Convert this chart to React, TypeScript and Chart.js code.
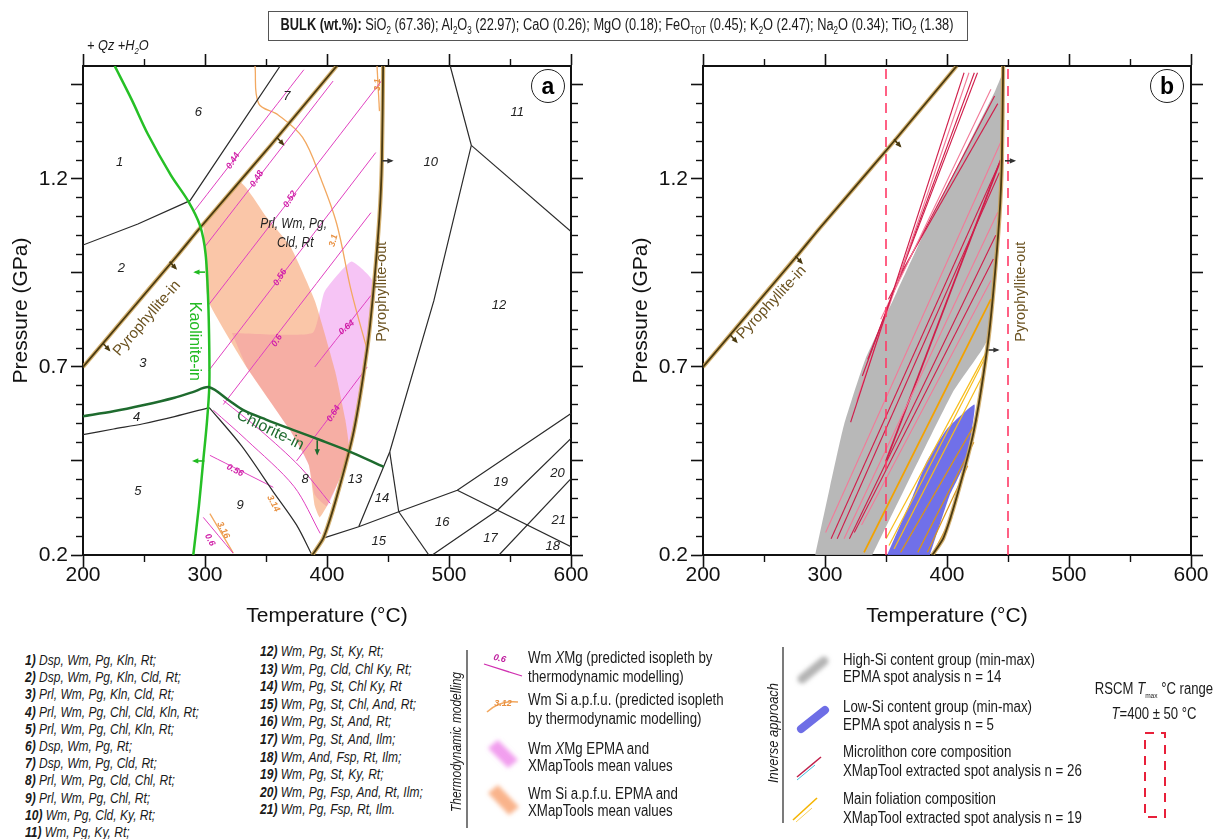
import React, { useEffect, useRef } from "react";
import { Chart, registerables } from "chart.js";

Chart.register(...registerables);

type Pt = [number, number];
type Seg = [number, number, number, number];

const SANS = "'Liberation Sans', Arial, Helvetica, sans-serif";

// ---------------- axes ----------------
const T_MIN = 200;
const T_MAX = 600;
const P_MIN = 0.2;
const P_MAX = 1.5;
const T_MAJOR_TICKS = [200, 300, 400, 500, 600];
const T_MINOR_TICKS = [250, 350, 450, 550];
const P_MAJOR_TICKS = [0.2, 0.45, 0.7, 0.95, 1.2, 1.45];
const P_MINOR_TICKS = [0.25, 0.3, 0.35, 0.4, 0.5, 0.55, 0.6, 0.65, 0.75, 0.8, 0.85, 0.9, 1.0, 1.05, 1.1, 1.15, 1.25, 1.3, 1.35, 1.4];
const P_TICK_LABELS = [0.2, 0.7, 1.2];

// ---------------- phase boundaries (T °C, P GPa) ----------------
const kaoliniteIn: Pt[] = [[226, 1.5], [240, 1.41], [253, 1.32], [272, 1.21], [286, 1.142], [296, 1.075], [300.5, 1.0], [302.6, 0.876], [303.5, 0.75], [303.5, 0.646], [301.5, 0.55], [298.6, 0.452], [295, 0.33], [290.4, 0.2]];
const chloriteIn: Pt[] = [[200, 0.569], [225, 0.582], [249, 0.598], [275, 0.618], [290, 0.633], [303.5, 0.646], [320, 0.61], [331.5, 0.585], [350, 0.56], [372.6, 0.532], [395, 0.505], [416.4, 0.478], [446.5, 0.434]];
const pyrophylliteIn: Pt[] = [[200, 0.7], [277, 0.995], [296, 1.07], [354, 1.29], [408, 1.5]];
const pyrophylliteOut: Pt[] = [[446, 1.5], [445, 1.25], [443, 1.1], [438, 0.9], [433, 0.75], [422, 0.53], [408, 0.355], [397, 0.245], [388, 0.2]];
const boundary4: Pt[] = [[200, 0.52], [225, 0.535], [249.4, 0.549], [275, 0.568], [303.5, 0.592]];
const boundary8to9: Pt[] = [[303.5, 0.592], [330, 0.49], [356, 0.368], [375, 0.28], [387.7, 0.2]];
const boundary1to6to7: Pt[] = [[200, 1.024], [245, 1.08], [287.7, 1.142], [361.6, 1.5]];
const boundaryA: Pt[] = [[501, 1.5], [518.3, 1.289], [487.6, 0.876], [451.4, 0.474], [426, 0.275]];
const boundary10to11: Pt[] = [[518.3, 1.289], [600, 1.06]];
const boundaryB: Pt[] = [[451.4, 0.474], [458.8, 0.315]];
const boundaryC: Pt[] = [[397, 0.245], [426, 0.275], [458.8, 0.315], [506.8, 0.372], [600, 0.576]];
const boundaryD: Pt[] = [[458.8, 0.315], [483.5, 0.2]];
const boundaryE: Pt[] = [[506.8, 0.372], [600, 0.222]];
const boundaryF: Pt[] = [[486.3, 0.2], [539.7, 0.319], [600, 0.51]];
const boundaryG: Pt[] = [[541, 0.2], [600, 0.403]];

// ---------------- isopleths (panel a) ----------------
const xmgIsopleths: Pt[][] = [
  [[291, 1.114], [381, 1.49]],
  [[300, 1.02], [405, 1.46]],
  [[303, 0.865], [446, 1.466]],
  [[303, 0.69], [440, 1.27]],
  [[315, 0.6], [436, 1.11]],
  [[375, 0.45], [433, 0.7]],
  [[390, 0.7], [436, 0.89]],
  [[306.8, 0.585], [334, 0.506], [373, 0.382], [394.5, 0.257]],
  [[315, 0.611], [345.2, 0.532], [378, 0.434], [402.7, 0.337]],
  [[304, 0.465], [356, 0.38]],
  [[298.6, 0.3], [323, 0.205]],
];
const siIsopleths: Pt[][] = [
  [[341, 1.5], [344, 1.4], [360, 1.37], [380, 1.31], [395, 1.2], [408, 1.08], [420, 0.9], [433, 0.745]],
  [[441, 1.5], [443, 1.38]],
  [[304, 0.31], [323.2, 0.205]],
];

// ---------------- measured fields ----------------
const siEpmaField: Pt[] = [[298.6, 1.08], [328.8, 1.19], [350, 1.1], [370, 1.02], [390, 0.876], [406.6, 0.69], [415, 0.56], [418, 0.48], [410, 0.4], [400, 0.33], [394, 0.3], [390, 0.33], [385, 0.44], [370, 0.53], [334, 0.7], [302.6, 0.876], [300, 0.99]];
const xmgEpmaField: Pt[] = [[322, 0.79], [388, 0.79], [398, 0.9], [420, 0.98], [437, 0.93], [434, 0.78], [428, 0.65], [419, 0.48], [410, 0.4], [400, 0.33], [390, 0.36], [385, 0.44], [370, 0.53], [334, 0.7]];

// ---------------- panel b ----------------
const highSiGroup: Pt[] = [[292, 0.2], [304, 0.38], [315.5, 0.545], [333, 0.72], [359, 0.9], [384, 1.075], [411, 1.25], [439, 1.43], [445.7, 1.478], [446, 1.3], [443, 1.1], [438, 0.9], [432, 0.765], [404.6, 0.632], [338.8, 0.2]];
const lowSiGroup: Pt[] = [[351, 0.2], [372, 0.357], [383, 0.446], [400, 0.535], [422.4, 0.6], [420.5, 0.535], [415, 0.446], [402, 0.357], [386, 0.2]];
const microlithonCore: Seg[] = [
  [321, 0.553, 414, 1.482], [326, 0.61, 418, 1.482], [330.6, 0.676, 422.4, 1.482], [335, 0.72, 425, 1.482],
  [345.7, 0.827, 436, 1.438], [352, 0.88, 439, 1.42], [359.4, 0.933, 441.6, 1.4],
  [300.5, 0.26, 444.4, 1.3], [305, 0.243, 444.4, 1.252], [310, 0.243, 443, 1.217], [315.6, 0.243, 441.6, 1.111],
  [320, 0.243, 440, 1.05], [324, 0.26, 438, 0.987], [330, 0.28, 436, 0.93], [350, 0.45, 444, 1.25],
];
const mainFoliation: Seg[] = [
  [332, 0.207, 436, 0.88], [350, 0.243, 432, 0.738], [352.5, 0.225, 430.5, 0.72], [356.6, 0.216, 429, 0.676],
  [362, 0.207, 425, 0.56], [376, 0.207, 422, 0.5], [384, 0.207, 417, 0.437], [389, 0.207, 404, 0.3],
];
const rscmRange: number[] = [350, 450];

// ---------------- labels ----------------
const fieldNumbers: [string, number, number][] = [
  ["1", 230, 1.243], ["2", 231.5, 0.961], ["3", 249, 0.71], ["4", 244, 0.567], ["5", 245, 0.368],
  ["6", 294.5, 1.376], ["7", 367, 1.42], ["8", 382, 0.4], ["9", 328.8, 0.333], ["10", 485, 1.243],
  ["11", 556, 1.376], ["12", 541, 0.863], ["13", 423, 0.4], ["14", 445, 0.35], ["15", 442.5, 0.235],
  ["16", 494.5, 0.288], ["17", 534, 0.244], ["18", 585, 0.222], ["19", 542.5, 0.394], ["20", 589, 0.417], ["21", 590, 0.293],
];
const xmgLabels: [string, number, number, number][] = [
  ["0.44", 323, 1.248, -58], ["0.48", 342.5, 1.2, -58], ["0.52", 369.8, 1.146, -58], ["0.56", 361.6, 0.938, -58],
  ["0.6", 359, 0.77, -58], ["0.64", 405.4, 0.576, -58], ["0.64", 416, 0.805, -40], ["0.56", 324.6, 0.425, 28], ["0.6", 304, 0.24, 62],
];
const siLabels: [string, number, number, number][] = [
  ["3.1", 405.4, 1.036, -75], ["3.14", 356, 0.337, 62], ["3.16", 315, 0.266, 62], ["3.1", 441.5, 1.45, -90],
];
const ASSEMBLAGES = [
  "Dsp, Wm, Pg, Kln, Rt;", "Dsp, Wm, Pg, Kln, Cld, Rt;", "Prl, Wm, Pg, Kln, Cld, Rt;", "Prl, Wm, Pg, Chl, Cld, Kln, Rt;",
  "Prl, Wm, Pg, Chl,  Kln, Rt;", "Dsp, Wm, Pg, Rt;", "Dsp, Wm, Pg, Cld, Rt;", "Prl, Wm, Pg, Cld, Chl, Rt;",
  "Prl, Wm, Pg, Chl,  Rt;", "Wm, Pg, Cld, Ky, Rt;", "Wm, Pg, Ky, Rt;", "Wm, Pg, St, Ky, Rt;",
  "Wm, Pg, Cld, Chl Ky, Rt;", "Wm, Pg, St, Chl Ky, Rt", "Wm, Pg, St, Chl, And, Rt;", "Wm, Pg, St, And, Rt;",
  "Wm, Pg, St, And, Ilm;", "Wm, And, Fsp, Rt, Ilm;", "Wm, Pg, St, Ky, Rt;", "Wm, Pg, Fsp, And, Rt, Ilm;", "Wm, Pg, Fsp, Rt, Ilm.",
];

// ---------------- layout constants ----------------
const PLOT_LEFT = 83;
const PLOT_RIGHT = 571;
const PLOT_TOP = 66;
const PLOT_BOTTOM = 555;
const CANVAS_H = 640;
const CONDENSE = 0.83;

const COL_PYRO = "#4a3a10";
const COL_PYRO_HALO = "rgba(205,165,90,0.85)";
const COL_BLACK = "#2a2a2a";

type Label = { text: string; t: number; p: number; rot?: number; color?: string; font?: string; sx?: number };
type Arrow = { from: Pt; to: Pt; color: string };

const toXY = (pts: Pt[]) => pts.map(([x, y]) => ({ x, y }));

function line(pts: Pt[], color: string, width: number, extra: any = {}) {
  return { data: toXY(pts), showLine: true, borderColor: color, backgroundColor: color, borderWidth: width, pointRadius: 0, fill: false, tension: 0, order: 2, ...extra };
}
function polygon(pts: Pt[], color: string, order: number) {
  return { data: toXY(pts), showLine: true, borderColor: "rgba(0,0,0,0)", borderWidth: 0, backgroundColor: color, fill: "shape", pointRadius: 0, tension: 0.15, order };
}
function segment(s: Seg, color: string, width: number, order: number) {
  return line([[s[0], s[1]], [s[2], s[3]]], color, width, { order });
}
function pyroLines(pts: Pt[]) {
  return [line(pts, COL_PYRO, 1.8, { order: 1, tension: 0.2 }), line(pts, COL_PYRO_HALO, 4.2, { order: 1.5, tension: 0.2 })];
}

function annotationPlugin(labels: Label[], arrows: Arrow[]) {
  return {
    id: "ptAnnotations",
    afterDatasetsDraw(chart: any) {
      const { ctx, chartArea, scales } = chart;
      const xs = scales.x;
      const ys = scales.y;
      ctx.save();
      ctx.beginPath();
      ctx.rect(chartArea.left, chartArea.top, chartArea.right - chartArea.left, chartArea.bottom - chartArea.top);
      ctx.clip();
      for (const a of arrows) {
        const x0 = xs.getPixelForValue(a.from[0]);
        const y0 = ys.getPixelForValue(a.from[1]);
        const x1 = xs.getPixelForValue(a.to[0]);
        const y1 = ys.getPixelForValue(a.to[1]);
        const ang = Math.atan2(y1 - y0, x1 - x0);
        ctx.strokeStyle = a.color;
        ctx.fillStyle = a.color;
        ctx.lineWidth = 1.6;
        ctx.beginPath();
        ctx.moveTo(x0, y0);
        ctx.lineTo(x1, y1);
        ctx.stroke();
        const h = 5;
        ctx.beginPath();
        ctx.moveTo(x1 + Math.cos(ang) * 2, y1 + Math.sin(ang) * 2);
        ctx.lineTo(x1 - h * Math.cos(ang - 0.55), y1 - h * Math.sin(ang - 0.55));
        ctx.lineTo(x1 - h * Math.cos(ang + 0.55), y1 - h * Math.sin(ang + 0.55));
        ctx.closePath();
        ctx.fill();
      }
      for (const l of labels) {
        const x = xs.getPixelForValue(l.t);
        const y = ys.getPixelForValue(l.p);
        ctx.save();
        ctx.translate(x, y);
        ctx.rotate(((l.rot || 0) * Math.PI) / 180);
        if (l.sx) ctx.scale(l.sx, 1);
        ctx.font = l.font || `italic 13px ${SANS}`;
        ctx.fillStyle = l.color || "#222";
        ctx.textAlign = "center";
        ctx.textBaseline = "middle";
        ctx.fillText(l.text, 0, 0);
        ctx.restore();
      }
      ctx.restore();
    },
  };
}

function makeScales(w: number, h: number) {
  const tickFont = { size: 21, family: SANS, lineHeight: 1 };
  const border = { display: true, color: "#111", width: 2 };
  const noBorder = { display: false };
  const majorGrid = { drawOnChartArea: false, drawTicks: true, tickLength: 12, tickWidth: 1.6, tickColor: "#111" };
  const minorGrid = { drawOnChartArea: false, drawTicks: true, tickLength: 7, tickWidth: 1.4, tickColor: "#111" };
  const setTicks = (vals: number[]) => (s: any) => {
    s.ticks = vals.map((v) => ({ value: v }));
  };
  const tRange = { type: "linear", min: T_MIN, max: T_MAX };
  const pRange = { type: "linear", min: P_MIN, max: P_MAX };
  return {
    x: {
      ...tRange, position: "bottom", weight: 1,
      afterBuildTicks: setTicks(T_MAJOR_TICKS),
      afterFit: (s: any) => { s.height = h - PLOT_BOTTOM; },
      ticks: { autoSkip: false, maxRotation: 0, padding: -2, color: "#111", font: tickFont, callback: (v: any) => String(v) },
      grid: majorGrid, border,
      title: { display: true, text: "Temperature (°C)", color: "#111", font: { size: 21, family: SANS, lineHeight: 1 }, padding: { top: 0, bottom: 13.5 } },
    },
    xMinor: {
      ...tRange, position: "bottom", weight: 0,
      afterBuildTicks: setTicks(T_MINOR_TICKS),
      afterFit: (s: any) => { s.height = 0; },
      ticks: { display: false, autoSkip: false }, grid: minorGrid, border: noBorder,
    },
    xTop: {
      ...tRange, position: "top", weight: 1,
      afterBuildTicks: setTicks(T_MAJOR_TICKS),
      afterFit: (s: any) => { s.height = PLOT_TOP; },
      ticks: { display: false, autoSkip: false }, grid: majorGrid, border,
    },
    xTopMinor: {
      ...tRange, position: "top", weight: 0,
      afterBuildTicks: setTicks(T_MINOR_TICKS),
      afterFit: (s: any) => { s.height = 0; },
      ticks: { display: false, autoSkip: false }, grid: minorGrid, border: noBorder,
    },
    y: {
      ...pRange, position: "left", weight: 1,
      afterBuildTicks: setTicks(P_MAJOR_TICKS),
      afterFit: (s: any) => { s.width = PLOT_LEFT; },
      ticks: {
        autoSkip: false, padding: 3, color: "#111", font: tickFont,
        callback: (v: any) => (P_TICK_LABELS.some((l) => Math.abs(l - v) < 1e-6) ? Number(v).toFixed(1) : ""),
      },
      grid: majorGrid, border,
      title: { display: true, text: "Pressure (GPa)", color: "#111", font: { size: 21, family: SANS, lineHeight: 1 }, padding: { top: 10.5, bottom: 0 } },
    },
    yMinor: {
      ...pRange, position: "left", weight: 0,
      afterBuildTicks: setTicks(P_MINOR_TICKS),
      afterFit: (s: any) => { s.width = 0; },
      ticks: { display: false, autoSkip: false }, grid: minorGrid, border: noBorder,
    },
    yRight: {
      ...pRange, position: "right", weight: 1,
      afterBuildTicks: setTicks(P_MAJOR_TICKS),
      afterFit: (s: any) => { s.width = w - PLOT_RIGHT; },
      ticks: { display: false, autoSkip: false }, grid: majorGrid, border,
    },
    yRightMinor: {
      ...pRange, position: "right", weight: 0,
      afterBuildTicks: setTicks(P_MINOR_TICKS),
      afterFit: (s: any) => { s.width = 0; },
      ticks: { display: false, autoSkip: false }, grid: minorGrid, border: noBorder,
    },
  };
}

function PTChart(props: { left: number; width: number; datasets: any[]; labels: Label[]; arrows: Arrow[] }) {
  const ref = useRef<HTMLCanvasElement>(null);
  useEffect(() => {
    const chart = new Chart(ref.current as HTMLCanvasElement, {
      type: "scatter",
      data: { datasets: props.datasets },
      options: {
        animation: false,
        responsive: false,
        events: [],
        layout: { padding: 0 },
        plugins: { legend: { display: false }, tooltip: { enabled: false } },
        scales: makeScales(props.width, CANVAS_H) as any,
      },
      plugins: [annotationPlugin(props.labels, props.arrows)],
    } as any);
    return () => chart.destroy();
  }, []);
  return (
    <canvas ref={ref} width={props.width} height={CANVAS_H}
      style={{ position: "absolute", left: props.left, top: 0, width: props.width, height: CANVAS_H }} />
  );
}

// ---------- panel a ----------
const datasetsA: any[] = [
  polygon(xmgEpmaField, "rgba(236,125,232,0.45)", 11),
  polygon(siEpmaField, "rgba(247,160,110,0.6)", 10),
  ...xmgIsopleths.map((p) => line(p, "#e040c0", 1, { order: 5, tension: 0.3 })),
  ...siIsopleths.map((p) => line(p, "#f2a860", 1.3, { order: 5, tension: 0.35 })),
  line(boundary4, COL_BLACK, 1.2, { tension: 0.3 }),
  line(boundary8to9, COL_BLACK, 1.2, { tension: 0.3 }),
  line(boundary1to6to7, COL_BLACK, 1.2),
  line(boundaryA, COL_BLACK, 1.2),
  line(boundary10to11, COL_BLACK, 1.2),
  line(boundaryB, COL_BLACK, 1.2),
  line(boundaryC, COL_BLACK, 1.2),
  line(boundaryD, COL_BLACK, 1.2),
  line(boundaryE, COL_BLACK, 1.2),
  line(boundaryF, COL_BLACK, 1.2),
  line(boundaryG, COL_BLACK, 1.2),
  line(chloriteIn, "#1e6b2e", 2.5, { order: 1, tension: 0.3 }),
  line(kaoliniteIn, "#26c026", 2.5, { order: 1, tension: 0.3 }),
  ...pyroLines(pyrophylliteIn),
  ...pyroLines(pyrophylliteOut),
];

const labelsA: Label[] = [
  ...fieldNumbers.map(([text, t, p]) => ({ text, t, p })),
  { text: "Prl, Wm, Pg,", t: 372.6, p: 1.08, font: `italic 14.5px ${SANS}`, sx: 0.82 },
  { text: "Cld, Rt", t: 374, p: 1.03, font: `italic 14.5px ${SANS}`, sx: 0.82 },
  ...xmgLabels.map(([text, t, p, rot]) => ({ text, t, p, rot, color: "#d020a8", font: `italic bold 9px ${SANS}` })),
  ...siLabels.map(([text, t, p, rot]) => ({ text, t, p, rot, color: "#e89040", font: `italic bold 9px ${SANS}` })),
  { text: "Pyrophyllite-in", t: 252.4, p: 0.829, rot: -49, color: "#6b5220", font: `15px ${SANS}` },
  { text: "Pyrophyllite-out", t: 445, p: 0.9, rot: -90, color: "#6b5220", font: `14.5px ${SANS}` },
  { text: "Kaolinite-in", t: 291.4, p: 0.768, rot: 90, color: "#22bb22", font: `16px ${SANS}` },
  { text: "Chlorite-in", t: 353.4, p: 0.532, rot: 26, color: "#1e6b2e", font: `16px ${SANS}` },
];
const arrowsA: Arrow[] = [
  { from: [445.5, 1.248], to: [453, 1.248], color: "#333" },
  { from: [300, 0.952], to: [292, 0.952], color: "#22bb22" },
  { from: [299.5, 0.45], to: [291, 0.45], color: "#22bb22" },
  { from: [392, 0.505], to: [392, 0.47], color: "#1e6b2e" },
  { from: [359, 1.31], to: [364, 1.292], color: "#4a3a10" },
  { from: [271, 0.98], to: [276, 0.962], color: "#4a3a10" },
  { from: [216.4, 0.763], to: [221.4, 0.745], color: "#4a3a10" },
];

// ---------- panel b ----------
const datasetsB: any[] = [
  polygon(highSiGroup, "rgba(178,178,178,0.92)", 12),
  polygon(lowSiGroup, "rgba(104,104,232,0.95)", 11),
  ...microlithonCore.map((s, i) => segment(s, i % 3 === 1 ? "#f27a98" : "#d01d4a", i === 14 ? 1.8 : 1.1, 6)),
  ...mainFoliation.map((s, i) => segment(s, i === 0 ? "#f2a200" : i >= 4 ? "#d89418" : "#f7bd1c", i === 0 ? 1.8 : 1.2, 5)),
  ...rscmRange.map((t) => line([[t, P_MIN], [t, P_MAX]], "#ff3a66", 1.6, { borderDash: [10, 7], order: 0.5 })),
  ...pyroLines(pyrophylliteIn),
  ...pyroLines(pyrophylliteOut),
];
const labelsB: Label[] = [
  { text: "Pyrophyllite-in", t: 256.2, p: 0.871, rot: -47, color: "#6b5220", font: `15px ${SANS}` },
  { text: "Pyrophyllite-out", t: 460.7, p: 0.9, rot: -90, color: "#6b5220", font: `14.5px ${SANS}` },
];
const arrowsB: Arrow[] = [
  { from: [356.6, 1.305], to: [361.6, 1.287], color: "#4a3a10" },
  { from: [275.8, 0.995], to: [280.8, 0.977], color: "#4a3a10" },
  { from: [222.4, 0.785], to: [227.4, 0.767], color: "#4a3a10" },
  { from: [447.5, 1.248], to: [455, 1.248], color: "#333" },
  { from: [434, 0.745], to: [441.5, 0.745], color: "#333" },
];

const txt = (extra: any = {}) => ({ position: "absolute" as const, whiteSpace: "nowrap" as const, fontFamily: SANS, color: "#1a1a1a", ...extra });

function LegendRow(props: { left: number; cy: number; size?: number; children: any; style?: any }) {
  const s = props.size || 16;
  return (
    <div style={txt({ left: props.left, top: props.cy - 10, height: 20, lineHeight: "20px", fontSize: s, transform: `scaleX(${CONDENSE})`, transformOrigin: "0 50%", ...(props.style || {}) })}>{props.children}</div>
  );
}

export default function App() {
  return (
    <div style={{ position: "absolute", left: 0, top: 0, width: 1220, height: 839, background: "#fff", overflow: "hidden" }}>
      <PTChart left={0} width={610} datasets={datasetsA} labels={labelsA} arrows={arrowsA} />
      <PTChart left={620} width={600} datasets={datasetsB} labels={labelsB} arrows={arrowsB} />

      {/* bulk composition box */}
      <div style={{ position: "absolute", left: 268, top: 11, width: 698, height: 28, border: "1px solid #555" }} />
      <div style={txt({ left: 617 - 430, top: 11, width: 860, height: 30, display: "flex", alignItems: "center", justifyContent: "center", fontSize: 16, transform: "scaleX(0.8)", transformOrigin: "50% 50%" })}>
        <span><b>BULK (wt.%):</b> SiO<sub style={{ fontSize: 10 }}>2</sub> (67.36); Al<sub style={{ fontSize: 10 }}>2</sub>O<sub style={{ fontSize: 10 }}>3</sub> (22.97); CaO (0.26); MgO (0.18); FeO<sub style={{ fontSize: 10 }}>TOT</sub> (0.45); K<sub style={{ fontSize: 10 }}>2</sub>O (2.47); Na<sub style={{ fontSize: 10 }}>2</sub>O (0.34); TiO<sub style={{ fontSize: 10 }}>2</sub> (1.38)</span>
      </div>
      <div style={txt({ left: 87, top: 36, fontSize: 15, fontStyle: "italic", transform: "scaleX(0.85)", transformOrigin: "0 50%" })}>+ Qz +H<sub style={{ fontSize: 9 }}>2</sub>O</div>

      {/* panel letters */}
      {[["a", 548], ["b", 1167]].map(([l, x]) => (
        <div key={l as string} style={{ position: "absolute", left: (x as number) - 17, top: 69, width: 32, height: 32, borderRadius: "50%", border: "1.6px solid #222", background: "#fff", display: "flex", alignItems: "center", justifyContent: "center", fontFamily: SANS, fontWeight: "bold", fontSize: 23, lineHeight: "23px" }}>{l}</div>
      ))}

      {/* assemblage list */}
      {ASSEMBLAGES.map((s, i) => {
        const first = i < 11;
        const row = first ? i : i - 11;
        return (
          <LegendRow key={i} left={first ? 25 : 260} cy={first ? 660 + row * 17.2 : 651 + row * 17.6} size={14.5} style={{ fontStyle: "italic" }}>
            <b>{i + 1})</b> {s}
          </LegendRow>
        );
      })}

      {/* legend icons */}
      <svg width={1220} height={839} style={{ position: "absolute", left: 0, top: 0, pointerEvents: "none" }}>
        <defs>
          <filter id="soft" x="-50%" y="-50%" width="200%" height="200%"><feGaussianBlur stdDeviation="2" /></filter>
        </defs>
        <line x1={467} y1={650} x2={467} y2={828} stroke="#222" strokeWidth={1.2} />
        <line x1={783} y1={647} x2={783} y2={823} stroke="#222" strokeWidth={1.2} />
        <text x={457} y={742} transform="rotate(-90 457 742)" textAnchor="middle" dominantBaseline="middle" fontFamily={SANS} fontStyle="italic" fontSize={15} textLength={140} lengthAdjust="spacingAndGlyphs" fill="#1a1a1a">Thermodynamic modelling</text>
        <text x={774} y={733} transform="rotate(-90 774 733)" textAnchor="middle" dominantBaseline="middle" fontFamily={SANS} fontStyle="italic" fontSize={15} textLength={100} lengthAdjust="spacingAndGlyphs" fill="#1a1a1a">Inverse approach</text>
        {/* XMg isopleth */}
        <line x1={484} y1={664} x2={522} y2={676} stroke="#d030b0" strokeWidth={1.3} />
        <text x={499} y={661} transform="rotate(15 499 661)" textAnchor="middle" fontFamily={SANS} fontStyle="italic" fontWeight="bold" fontSize={9} fill="#c020a0">0.6</text>
        {/* Si isopleth */}
        <path d="M487 712 Q500 700 518 702" stroke="#f2a860" strokeWidth={1.6} fill="none" />
        <text x={503} y={706} textAnchor="middle" fontFamily={SANS} fontStyle="italic" fontWeight="bold" fontSize={9} fill="#e89040">3.12</text>
        {/* fields */}
        <polygon points="488,748 498,740 518,760 508,768" fill="rgba(236,125,232,0.75)" filter="url(#soft)" />
        <polygon points="488,793 498,785 519,807 509,815" fill="rgba(247,160,110,0.8)" filter="url(#soft)" />
        <line x1={802} y1={679} x2={824} y2={661} stroke="#b4b4b4" strokeWidth={9} strokeLinecap="round" filter="url(#soft)" />
        <line x1={801} y1={729} x2={825} y2={710} stroke="#6e6ee6" strokeWidth={8} strokeLinecap="round" />
        <line x1={797} y1={780} x2={815} y2={765} stroke="#40c0e0" strokeWidth={1} />
        <line x1={797} y1={777} x2={821} y2={757} stroke="#c0204a" strokeWidth={1.5} />
        <line x1={793} y1={820} x2={817} y2={798} stroke="#f5b400" strokeWidth={1.6} />
        <line x1={796} y1={822} x2={812} y2={808} stroke="#f8d060" strokeWidth={1} />
        <rect x={1145} y={733} width={20} height={84} fill="none" stroke="#e8203a" strokeWidth={2} strokeDasharray="9 7" />
      </svg>

      {/* thermodynamic modelling legend */}
      <LegendRow left={528} cy={658}>Wm <i>X</i>Mg (predicted isopleth by</LegendRow>
      <LegendRow left={528} cy={677}>thermodynamic modelling)</LegendRow>
      <LegendRow left={528} cy={700}>Wm Si a.p.f.u. (predicted isopleth</LegendRow>
      <LegendRow left={528} cy={719}>by thermodynamic modelling)</LegendRow>
      <LegendRow left={528} cy={749}>Wm <i>X</i>Mg EPMA and</LegendRow>
      <LegendRow left={528} cy={766}>XMapTools mean values</LegendRow>
      <LegendRow left={528} cy={794}>Wm Si a.p.f.u. EPMA and</LegendRow>
      <LegendRow left={528} cy={811}>XMapTools mean values</LegendRow>

      {/* inverse approach legend */}
      <LegendRow left={843} cy={660}>High-Si content group (min-max)</LegendRow>
      <LegendRow left={843} cy={677}>EPMA spot analysis n = 14</LegendRow>
      <LegendRow left={843} cy={707}>Low-Si content group (min-max)</LegendRow>
      <LegendRow left={843} cy={725}>EPMA spot analysis n = 5</LegendRow>
      <LegendRow left={843} cy={752}>Microlithon core composition</LegendRow>
      <LegendRow left={843} cy={771}>XMapTool extracted spot analysis n = 26</LegendRow>
      <LegendRow left={843} cy={799}>Main foliation composition</LegendRow>
      <LegendRow left={843} cy={818}>XMapTool extracted spot analysis n = 19</LegendRow>

      {/* RSCM */}
      <div style={txt({ left: 1054, top: 680, width: 200, textAlign: "center", fontSize: 16, lineHeight: "18px", transform: "scaleX(0.82)", transformOrigin: "50% 50%" })}>
        RSCM <i>T</i><sub style={{ fontSize: 8 }}>max</sub> °C range<br /><i>T</i>=400 ± 50 °C
      </div>
    </div>
  );
}
